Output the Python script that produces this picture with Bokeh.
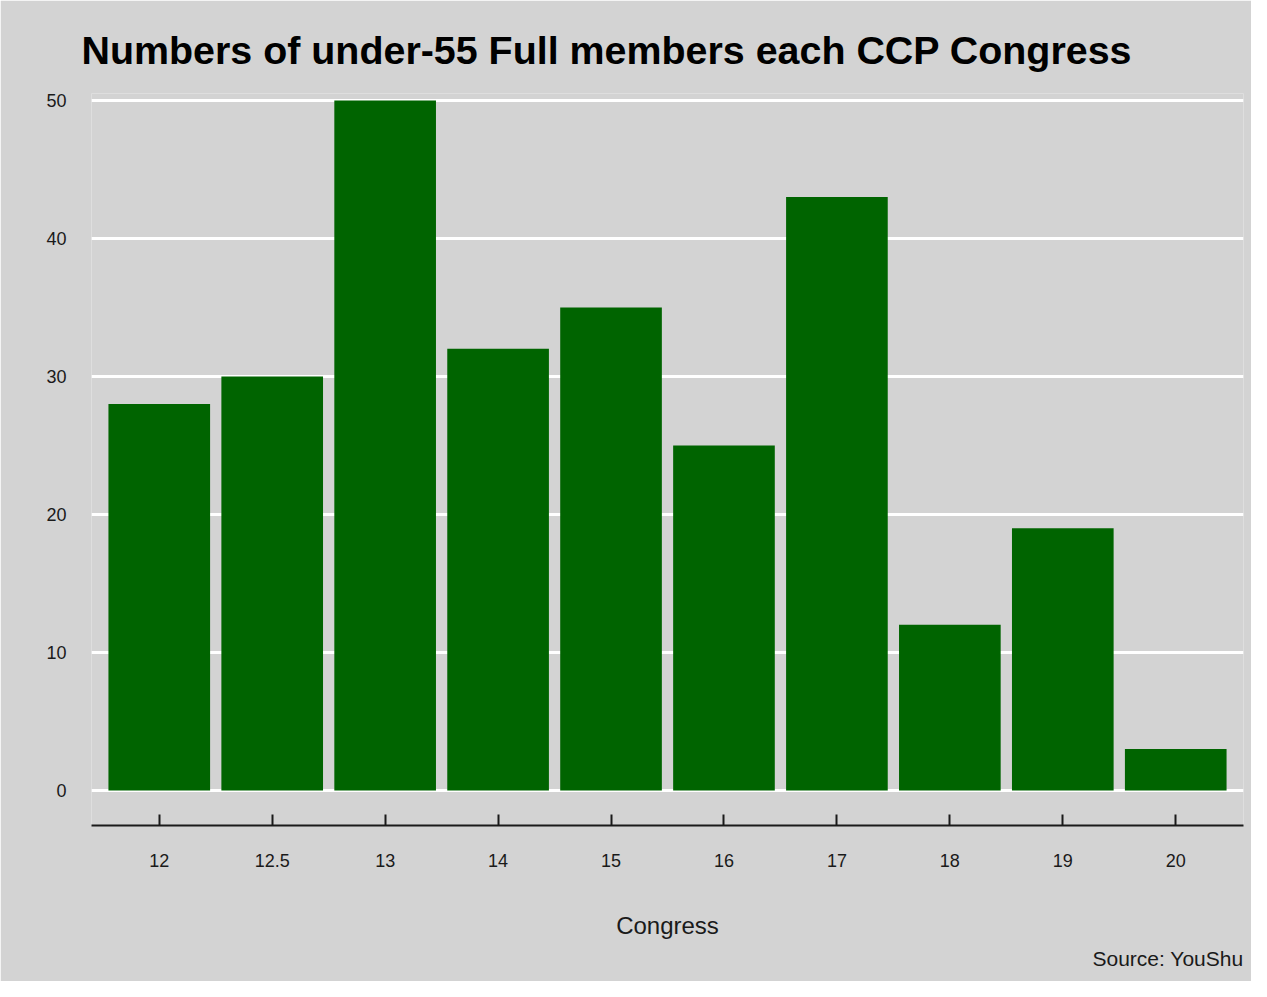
from bokeh.plotting import figure
from bokeh.models import Range1d, FixedTicker, Title
from bokeh.embed import file_html
from bokeh.resources import INLINE

congresses = ["12", "12.5", "13", "14", "15", "16", "17", "18", "19", "20"]
under55_full = [28, 30, 50, 32, 35, 25, 43, 12, 19, 3]
y_ticks = [0, 10, 20, 30, 40, 50]

FONT = "Liberation Sans"
BG = "#D3D3D3"

idx = list(range(len(congresses)))

p = figure(
    width=1251, height=981,
    x_range=Range1d(-0.6, len(congresses) - 0.4),
    y_range=Range1d(-2.536, 50.5),
    output_backend="svg", toolbar_location=None,
    min_border_left=91, min_border_right=8, min_border_top=93, min_border_bottom=156,
)
p.background_fill_color = BG
p.border_fill_color = BG
p.outline_line_color = None

p.title.text = "Numbers of under-55 Full members each CCP Congress"
p.title.text_font = FONT
p.title.text_font_size = "39.4px"
p.title.text_font_style = "bold"
p.title.text_color = "black"
p.title.align = "left"
p.title.offset = -10
p.title.standoff = 43

p.vbar(x=idx, top=under55_full, width=0.9, fill_color="#006400", line_color=None)

# grid
p.xgrid.grid_line_color = None
p.ygrid.grid_line_color = "white"
p.ygrid.grid_line_width = 3
p.ygrid.ticker = FixedTicker(ticks=y_ticks)

# y axis
p.yaxis.ticker = FixedTicker(ticks=y_ticks)
p.yaxis.axis_line_color = None
p.yaxis.major_tick_line_color = None
p.yaxis.minor_tick_line_color = None
p.yaxis.major_label_standoff = 19
p.yaxis.major_label_text_font = FONT
p.yaxis.major_label_text_font_size = "18px"
p.yaxis.major_label_text_color = "#1a1a1a"

# x axis
p.xaxis.ticker = FixedTicker(ticks=idx)
p.xaxis.major_label_overrides = {i: c for i, c in zip(idx, congresses)}
p.xaxis.axis_line_color = "#1a1a1a"
p.xaxis.axis_line_width = 2
p.xaxis.major_tick_line_color = "#1a1a1a"
p.xaxis.major_tick_line_width = 2
p.xaxis.major_tick_in = 11
p.xaxis.major_tick_out = 0
p.xaxis.minor_tick_line_color = None
p.xaxis.major_label_standoff = 28
p.xaxis.major_label_text_font = FONT
p.xaxis.major_label_text_font_size = "18px"
p.xaxis.major_label_text_color = "#1a1a1a"
p.xaxis.axis_label = "Congress"
p.xaxis.axis_label_text_font = FONT
p.xaxis.axis_label_text_font_size = "24px"
p.xaxis.axis_label_text_font_style = "normal"
p.xaxis.axis_label_text_color = "#1a1a1a"
p.xaxis.axis_label_standoff = 42

src = Title(text="Source: YouShu", align="right", text_font=FONT,
            text_font_size="21px", text_font_style="normal",
            text_color="#1a1a1a", standoff=6)
p.add_layout(src, "below")

open("out.html", "w").write(file_html(p, INLINE))
